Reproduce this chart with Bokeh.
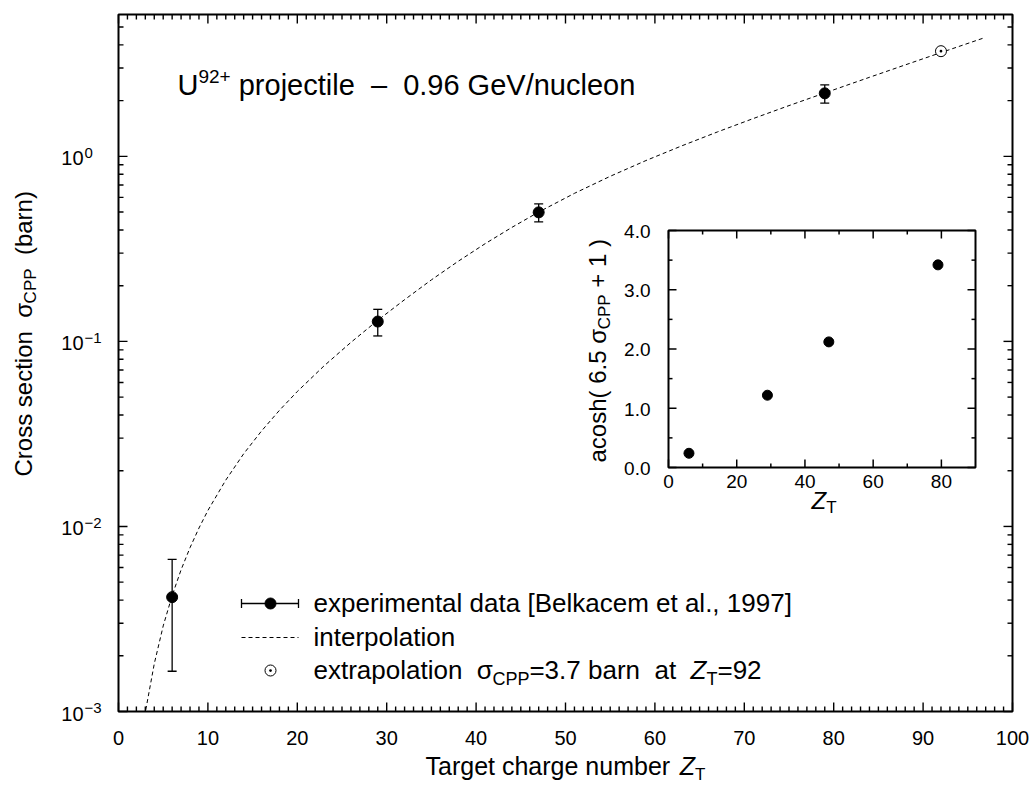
import math
from bokeh.plotting import figure
from bokeh.models import (Range1d, LinearScale, Label, Whisker, TeeHead, ColumnDataSource)
from bokeh.embed import file_html
from bokeh.resources import INLINE

# ---------------- data ----------------
Z_EXP = [6, 29, 47, 79]
SIGMA_EXP = [0.00415, 0.128, 0.498, 2.19]
SIGMA_LO = [0.00165, 0.107, 0.442, 1.94]
SIGMA_HI = [0.00664, 0.149, 0.553, 2.43]

Z_EXTRAP = [92]
SIGMA_EXTRAP = [3.7]

Z_CURVE = [3.05, 4, 5, 6, 7, 8, 9, 10, 12, 14, 16, 18, 20, 23, 26, 29, 32, 35, 38,
           41, 44, 47, 51, 55, 59, 63, 67, 71, 75, 79, 84, 88, 92, 96.7]
SIGMA_CURVE = [0.00102, 0.00181, 0.00290, 0.00423, 0.00583, 0.00768, 0.00980,
               0.0122, 0.0178, 0.0247, 0.0328, 0.0424, 0.0536, 0.0738, 0.0988,
               0.130, 0.168, 0.215, 0.271, 0.337, 0.413, 0.500, 0.631, 0.780,
               0.949, 1.139, 1.355, 1.600, 1.880, 2.200, 2.673, 3.119, 3.636, 4.347]

ACOSH_VAL = [0.24, 1.22, 2.12, 3.42]   # inset: acosh(6.5*sigma+1)

X_TICKS = list(range(0, 101, 10))
X_MINOR = [i for i in range(0, 101) if i % 10]
Y_TICKS = [1e-3, 1e-2, 1e-1, 1.0]
Y_MINOR = [m * 10.0 ** e for e in range(-3, 1) for m in range(2, 10) if m * 10.0 ** e < 5.8]

INSET_XTICKS = [0, 20, 40, 60, 80]
INSET_XMINOR = [10, 30, 50, 70]
INSET_YTICKS = [0, 1, 2, 3, 4]
INSET_YMINOR = [0.5, 1.5, 2.5, 3.5]
INSET_YLABELS = ["0.0", "1.0", "2.0", "3.0", "4.0"]

# ---------------- layout (canvas pixels) ----------------
WC, HC = 1034, 787
FL, FR, FT, FB = 118, 1012, 14, 711
X0, X1 = 0, 100
Y0, Y1 = 1e-3, 5.84
LY0, LY1 = math.log10(Y0), math.log10(Y1)

IN_L, IN_R, IN_T, IN_B = 668, 975, 230, 467
IX0, IX1 = 0, 90
IY0, IY1 = 0, 4

FONT = "Liberation Sans"

# the drawing frame covers the whole canvas; the axes box is a region inside it
XS = X0 - FL * (X1 - X0) / (FR - FL)
XE = X1 + (WC - FR) * (X1 - X0) / (FR - FL)
LYS = LY0 - (HC - FB) * (LY1 - LY0) / (FB - FT)
LYE = LY1 + FT * (LY1 - LY0) / (FB - FT)


def px2x(px):
    return XS + px * (XE - XS) / WC


def py2y(py):
    return 10 ** (LYE - py * (LYE - LYS) / HC)


def x2px(x):
    return (x - XS) * WC / (XE - XS)


def y2py(y):
    return (LYE - math.log10(y)) * HC / (LYE - LYS)


def ix2px(x):
    return IN_L + (x - IX0) * (IN_R - IN_L) / (IX1 - IX0)


def iy2py(y):
    return IN_B - (y - IY0) * (IN_B - IN_T) / (IY1 - IY0)


# Arial / Liberation Sans advance widths (1/1000 em)
AW = {' ': 278, '(': 333, ')': 333, '+': 584, ',': 278, '-': 333, '.': 278, '/': 278,
      '=': 584, '[': 278, ']': 278, '–': 556, '−': 584, 'σ': 600}
for c in '0123456789':
    AW[c] = 556
AW.update(dict(A=667, B=667, C=722, D=722, E=667, F=611, G=778, H=722, I=278, J=500,
               K=667, L=556, M=833, N=722, O=778, P=667, Q=778, R=722, S=667, T=611,
               U=722, V=667, W=944, X=667, Y=667, Z=611))
AW.update(dict(a=556, b=556, c=500, d=556, e=556, f=278, g=556, h=556, i=222, j=222,
               k=500, l=222, m=833, n=556, o=556, p=556, q=556, r=333, s=500, t=278,
               u=556, v=500, w=722, x=500, y=500, z=500))


def tw(s, size):
    return sum(AW.get(c, 556) for c in s) * size / 1000.0


p = figure(width=WC, height=HC, x_range=Range1d(XS, XE),
           y_range=Range1d(10 ** LYS, 10 ** LYE), y_axis_type="log",
           output_backend="svg", toolbar_location=None,
           min_border_left=0, min_border_right=0, min_border_top=0, min_border_bottom=0,
           background_fill_color="white", border_fill_color="white")
p.xgrid.visible = False
p.ygrid.visible = False
p.xaxis.visible = False
p.yaxis.visible = False
p.outline_line_color = None

p.extra_x_ranges = {"ix": Range1d(IX0 - IN_L * (IX1 - IX0) / (IN_R - IN_L),
                                  IX1 + (WC - IN_R) * (IX1 - IX0) / (IN_R - IN_L))}
p.extra_y_ranges = {"iy": Range1d(IY0 - (HC - IN_B) * (IY1 - IY0) / (IN_B - IN_T),
                                  IY1 + IN_T * (IY1 - IY0) / (IN_B - IN_T))}
p.extra_x_scales = {"ix": LinearScale()}
p.extra_y_scales = {"iy": LinearScale()}

# ---------------- main axes box and inward ticks on all four sides ----------------
p.quad(left=[X0], right=[X1], bottom=[Y0], top=[Y1], fill_color=None,
       line_color="black", line_width=2)
MAJ, MIN = 9, 5


def main_ticks(xvals, yvals, length):
    x0, x1, y0, y1 = [], [], [], []
    for v in xvals:
        x0 += [v, v]; x1 += [v, v]
        y0 += [Y0, Y1]; y1 += [py2y(FB - length), py2y(FT + length)]
    for v in yvals:
        y0 += [v, v]; y1 += [v, v]
        x0 += [X0, X1]; x1 += [px2x(FL + length), px2x(FR - length)]
    p.segment(x0=x0, x1=x1, y0=y0, y1=y1, line_color="black", line_width=1.4)


main_ticks(X_TICKS, Y_TICKS, MAJ)
main_ticks(X_MINOR, Y_MINOR, MIN)


def lab(text, px, py, size, align="left", style="normal", angle=0.0):
    """px, py: position of the text baseline (canvas pixels)."""
    if angle:
        cx, cy = px - 0.35 * size, py
    else:
        cx, cy = px, py - 0.35 * size
    p.add_layout(Label(x=px2x(cx), y=py2y(cy), text=text, text_font=FONT,
                       text_font_size=f"{size}px", text_align=align,
                       text_baseline="middle", text_font_style=style,
                       angle=angle, text_color="black"))


def chain_width(pieces):
    return sum(tw(t, s) for t, s, _, _ in pieces)


def chain(pieces, px, py, vertical=False):
    """pieces: (text, size, shift_px, style). shift is toward 'down' of the text."""
    pos = px if not vertical else py
    for text, size, shift, style in pieces:
        stripped = text.lstrip(' ')
        lead = tw(text[:len(text) - len(stripped)], size)
        body = stripped.rstrip(' ')
        if body:
            if vertical:
                lab(body, px + shift, pos - lead, size, angle=math.pi / 2, style=style)
            else:
                lab(body, pos + lead, py + shift, size, style=style)
        pos = pos + tw(text, size) if not vertical else pos - tw(text, size)


# ---------------- main plot ----------------
p.line(Z_CURVE, SIGMA_CURVE, line_color="black", line_width=1, line_dash="4 3")

err_src = ColumnDataSource(dict(base=Z_EXP, lower=SIGMA_LO, upper=SIGMA_HI))
p.add_layout(Whisker(source=err_src, base="base", lower="lower", upper="upper",
                     dimension="height", line_color="black", line_width=1.3,
                     upper_head=TeeHead(size=9, line_width=1.3, line_color="black"),
                     lower_head=TeeHead(size=9, line_width=1.3, line_color="black")))
p.scatter(Z_EXP, SIGMA_EXP, marker="circle", size=11, color="black")
p.scatter(Z_EXTRAP, SIGMA_EXTRAP, marker="circle_dot", size=11, fill_color="white",
          line_color="black", line_width=1)

# tick labels of the main plot
for t in X_TICKS:
    lab(str(t), x2px(t), 744, 20, align="center")
for t in Y_TICKS:
    e = int(round(math.log10(t)))
    ty = y2py(t)
    lab("10", 83, ty + 9, 20, align="right")
    lab(str(e).replace("-", "−"), 84, ty + 2, 15)

# axis titles
XT = [("Target charge number ", 25, 0, "normal"), ("Z", 25, 0, "italic"),
      ("T", 17, 6, "normal")]
chain(XT, (FL + FR) / 2 - chain_width(XT) / 2, 774)
chain([("Cross section  ", 24, 0, "normal"), ("σ", 24, 0, "normal"),
       ("CPP", 17, 5, "normal"), ("  (barn)", 24, 0, "normal")], 31, 476, vertical=True)

# header text
chain([("U", 29, 0, "normal"), ("92+", 19, -12, "normal"),
       (" projectile  ", 29, 0, "normal"), ("–", 29, 0, "normal"),
       ("  0.96 GeV/nucleon", 29, 0, "normal")], 177, 95)

# legend
LEG_X0, LEG_X1, LEG_XM, LEG_TX = 241, 298, 270, 313
ROWS = [603, 637, 670]
p.segment(x0=[px2x(LEG_X0)], x1=[px2x(LEG_X1)], y0=[py2y(ROWS[0])], y1=[py2y(ROWS[0])],
          line_color="black", line_width=1.3)
p.segment(x0=[px2x(LEG_X0), px2x(LEG_X1)], x1=[px2x(LEG_X0), px2x(LEG_X1)],
          y0=[py2y(ROWS[0] - 4.5)] * 2, y1=[py2y(ROWS[0] + 4.5)] * 2,
          line_color="black", line_width=1.3)
p.scatter([px2x(LEG_XM)], [py2y(ROWS[0])], marker="circle", size=11, color="black")
p.line([px2x(LEG_X0), px2x(LEG_X1)], [py2y(ROWS[1])] * 2, line_color="black",
       line_width=1, line_dash="4 3")
p.scatter([px2x(LEG_XM)], [py2y(ROWS[2])], marker="circle_dot", size=11,
          fill_color="white", line_color="black", line_width=1)

lab("experimental data [Belkacem et al., 1997]", LEG_TX, ROWS[0] + 9, 26)
lab("interpolation", LEG_TX, ROWS[1] + 9, 26)
chain([("extrapolation  ", 26, 0, "normal"), ("σ", 26, 0, "normal"),
       ("CPP", 18, 6, "normal"), ("=3.7 barn", 26, 0, "normal"),
       ("  at  ", 26, 0, "normal"),
       ("Z", 26, 0, "italic"), ("T", 18, 6, "normal"), ("=92", 26, 0, "normal")],
      LEG_TX, ROWS[2] + 9)

# ---------------- inset ----------------
IR = dict(x_range_name="ix", y_range_name="iy")
p.quad(left=[IX0], right=[IX1], bottom=[IY0], top=[IY1], fill_color="white",
       line_color="black", line_width=2, **IR)

MAJ_PX, MIN_PX = 8, 4
dxu = (IX1 - IX0) / (IN_R - IN_L)
dyu = (IY1 - IY0) / (IN_B - IN_T)


def tick_set(vals, length_px, horizontal_axis):
    x0, x1, y0, y1 = [], [], [], []
    for v in vals:
        if horizontal_axis:
            for base, sgn in ((IY0, 1), (IY1, -1)):
                x0.append(v); x1.append(v)
                y0.append(base); y1.append(base + sgn * length_px * dyu)
        else:
            for base, sgn in ((IX0, 1), (IX1, -1)):
                y0.append(v); y1.append(v)
                x0.append(base); x1.append(base + sgn * length_px * dxu)
    p.segment(x0=x0, x1=x1, y0=y0, y1=y1, line_color="black", line_width=1.5, **IR)


tick_set(INSET_XTICKS, MAJ_PX, True)
tick_set(INSET_XMINOR, MIN_PX, True)
tick_set(INSET_YTICKS, MAJ_PX, False)
tick_set(INSET_YMINOR, MIN_PX, False)

p.scatter(Z_EXP, ACOSH_VAL, marker="circle", size=10, color="black", **IR)

for t in INSET_XTICKS:
    lab(str(t), ix2px(t), 488, 19, align="center")
for t, s in zip(INSET_YTICKS, INSET_YLABELS):
    lab(s, 650, iy2py(t) + 7.5, 19, align="right")

chain([("Z", 24, 0, "italic"), ("T", 17, 5, "normal")], 811, 508)
chain([("acosh( 6.5 ", 24, 0, "normal"), ("σ", 24, 0, "normal"),
       ("CPP", 17, 5, "normal"), (" + 1 )", 24, 0, "normal")], 605, 462, vertical=True)

open("out.html", "w").write(file_html(p, INLINE))
